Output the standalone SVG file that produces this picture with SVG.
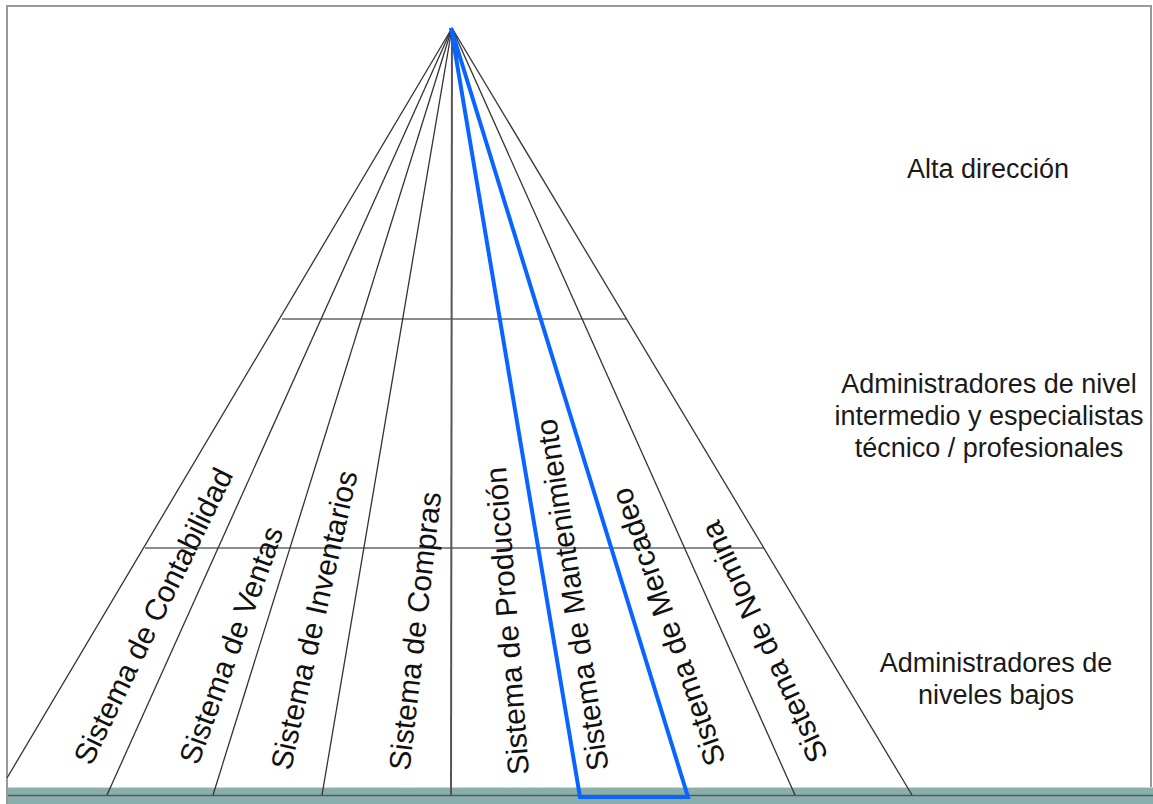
<svg xmlns="http://www.w3.org/2000/svg" width="1153" height="804" viewBox="0 0 1153 804">
  <style>
    .ray { stroke: #333; stroke-width: 1.3; fill: none; }
    .tier { stroke: #8c8c8c; stroke-width: 2; fill: none; }
    .axis { stroke: #555; stroke-width: 2; fill: none; }
    .hl { stroke: #0a64ff; stroke-width: 4; fill: none; stroke-linejoin: miter; }
    .sys { font-family: "Liberation Sans", Arial, sans-serif; font-size: 30px; fill: #111; text-anchor: middle; }
    .lvl { font-family: "Liberation Sans", Arial, sans-serif; font-size: 27px; fill: #1a1a1a; text-anchor: middle; }
  </style>

  <!-- page frame -->
  <rect x="0" y="0" width="1153" height="804" fill="#ffffff"/>
  <rect x="7" y="6" width="1144" height="800" fill="#ffffff" stroke="#999" stroke-width="2"/>

  <!-- floor band -->
  <g id="floor">
    <rect x="8" y="787" width="1145" height="17" fill="#8aaeac"/>
    <line x1="8" y1="787.5" x2="1153" y2="787.5" stroke="#cddada" stroke-width="1"/>
    <line x1="8" y1="795.5" x2="1153" y2="795.5" stroke="#4c5e5e" stroke-width="1.5"/>
  </g>

  <!-- tier dividers -->
  <g id="tiers">
    <line class="tier" x1="282" y1="319" x2="627" y2="319"/>
    <line class="tier" x1="145" y1="548" x2="764" y2="548"/>
  </g>

  <!-- fan of system boundaries from the apex -->
  <g id="connectors">
    <line class="ray" x1="452" y1="28" x2="7" y2="778"/>
    <line class="ray" x1="452" y1="28" x2="107" y2="795"/>
    <line class="ray" x1="452" y1="28" x2="213" y2="795"/>
    <line class="ray" x1="452" y1="28" x2="322" y2="795"/>
    <line class="axis" x1="452" y1="28" x2="451" y2="795"/>
    <line class="ray" x1="452" y1="28" x2="795" y2="795"/>
    <line class="ray" x1="452" y1="28" x2="912" y2="795"/>
  </g>

  <!-- highlighted system wedge -->
  <g id="highlight">
    <polygon class="hl" points="451,28 580,797 688,797"/>
  </g>

  <!-- system labels along each wedge -->
  <g id="sys-contabilidad">
    <text class="sys" transform="translate(153,616) rotate(-64)" dy="0.35em">Sistema de Contabilidad</text>
  </g>
  <g id="sys-ventas">
    <text class="sys" transform="translate(231,645) rotate(-70)" dy="0.35em">Sistema de Ventas</text>
  </g>
  <g id="sys-inventarios">
    <text class="sys" transform="translate(314,620) rotate(-77.3)" dy="0.35em">Sistema de Inventarios</text>
  </g>
  <g id="sys-compras">
    <text class="sys" transform="translate(415,631) rotate(-83.5)" dy="0.35em">Sistema de Compras</text>
  </g>
  <g id="sys-produccion">
    <text class="sys" transform="translate(507,621) rotate(-94.3)" dy="0.35em">Sistema de Producción</text>
  </g>
  <g id="sys-mantenimiento">
    <text class="sys" transform="translate(572,595) rotate(-98.5)" dy="0.35em">Sistema de Mantenimiento</text>
  </g>
  <g id="sys-mercadeo">
    <text class="sys" transform="translate(668,627) rotate(-109.2)" dy="0.35em">Sistema de Mercadeo</text>
  </g>
  <g id="sys-nomina">
    <text class="sys" transform="translate(764,642) rotate(-114.9)" dy="0.35em">Sistema de Nomina</text>
  </g>

  <!-- management levels -->
  <g id="lvl-alta">
    <text class="lvl" x="988" y="178">Alta dirección</text>
  </g>
  <g id="lvl-intermedio">
    <text class="lvl" x="989" y="393">Administradores de nivel</text>
    <text class="lvl" x="989" y="425">intermedio y especialistas</text>
    <text class="lvl" x="989" y="457">técnico / profesionales</text>
  </g>
  <g id="lvl-bajos">
    <text class="lvl" x="996" y="672">Administradores de</text>
    <text class="lvl" x="996" y="704">niveles bajos</text>
  </g>
</svg>
